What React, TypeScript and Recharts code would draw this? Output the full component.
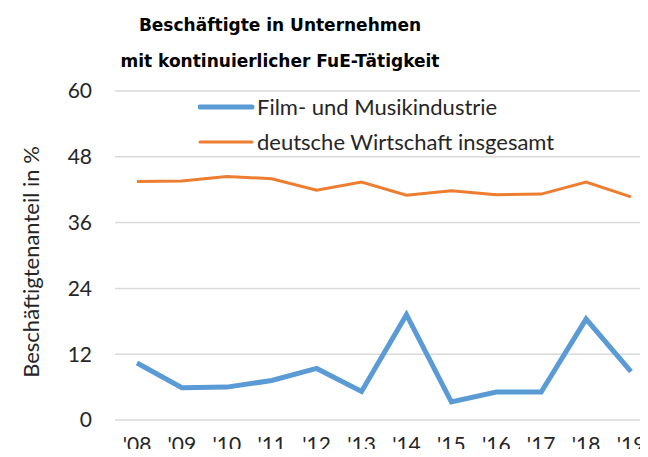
import { LineChart, Line, XAxis, YAxis, CartesianGrid, Legend } from 'recharts';

const years = ["'08", "'09", "'10", "'11", "'12", "'13", "'14", "'15", "'16", "'17", "'18", "'19"];
const filmMusik = [10.4, 5.9, 6.0, 7.2, 9.4, 5.2, 19.2, 3.3, 5.1, 5.1, 18.4, 8.8];
const gesamt = [43.5, 43.6, 44.4, 44.0, 41.9, 43.4, 41.0, 41.8, 41.1, 41.2, 43.4, 40.7];
const yTicks = [0, 12, 24, 36, 48, 60];

const data = years.map((year, i) => ({ year, film: filmMusik[i], gesamt: gesamt[i] }));

const FONT = 'Lato, "Open Sans", sans-serif';
const BLUE = '#5b9bd5';
const ORANGE = '#ed7d31';

function LegendBox() {
  const items = [
    { label: 'Film- und Musikindustrie', color: BLUE, width: 5 },
    { label: 'deutsche Wirtschaft insgesamt', color: ORANGE, width: 3 },
  ];
  return (
    <div style={{ fontFamily: FONT, fontSize: 22, color: '#262626' }}>
      {items.map((it) => (
        <div key={it.label} style={{ display: 'flex', alignItems: 'center', height: 35 }}>
          <svg width={59} height={10}>
            <line x1={2} y1={5} x2={54} y2={5} stroke={it.color} strokeWidth={it.width} strokeLinecap="round" />
          </svg>
          <span>{it.label}</span>
        </div>
      ))}
    </div>
  );
}

export default function App() {
  return (
    <div style={{ position: 'relative', margin: -8, width: 648, height: 457, overflow: 'hidden', background: '#fff' }}>
      <div
        style={{
          position: 'absolute', left: 0, width: 560, top: 7, textAlign: 'center',
          fontFamily: '"DejaVu Sans", sans-serif', fontWeight: 'bold', fontSize: 17, lineHeight: '36px', color: '#000',
        }}
      >
        <div>Beschäftigte in Unternehmen</div>
        <div>mit kontinuierlicher FuE-Tätigkeit</div>
      </div>
      <div
        style={{
          position: 'absolute', left: 30, top: 262, transform: 'translate(-50%, -50%) rotate(-90deg)',
          whiteSpace: 'nowrap', fontFamily: FONT, fontSize: 22, color: '#262626',
        }}
      >
        Beschäftigtenanteil in %
      </div>
      <LineChart
        width={660}
        height={457}
        data={data}
        margin={{ top: 91, right: 7, bottom: 7, left: 0 }}
        style={{ position: 'absolute', left: 0, top: 0 }}
      >
        <CartesianGrid vertical={false} stroke="#d9d9d9" strokeWidth={1.5} />
        <XAxis
          dataKey="year"
          axisLine={false}
          tickLine={false}
          tickSize={0}
          tickMargin={17}
          height={30}
          padding={{ left: 22, right: 22 }}
          interval={0}
          tick={{ fontFamily: FONT, fontSize: 21, fill: '#262626' }}
        />
        <YAxis
          domain={[0, 60]}
          ticks={yTicks}
          axisLine={false}
          tickLine={false}
          tickSize={0}
          tickMargin={23}
          width={115}
          tick={{ fontFamily: FONT, fontSize: 21, fill: '#262626' }}
        />
        <Legend
          layout="vertical"
          verticalAlign="middle"
          align="center"
          wrapperStyle={{ left: 198, top: 89, width: 420 }}
          content={() => <LegendBox />}
        />
        <Line dataKey="film" stroke={BLUE} strokeWidth={5} dot={false} isAnimationActive={false} />
        <Line dataKey="gesamt" stroke={ORANGE} strokeWidth={3} dot={false} isAnimationActive={false} />
      </LineChart>
    </div>
  );
}
